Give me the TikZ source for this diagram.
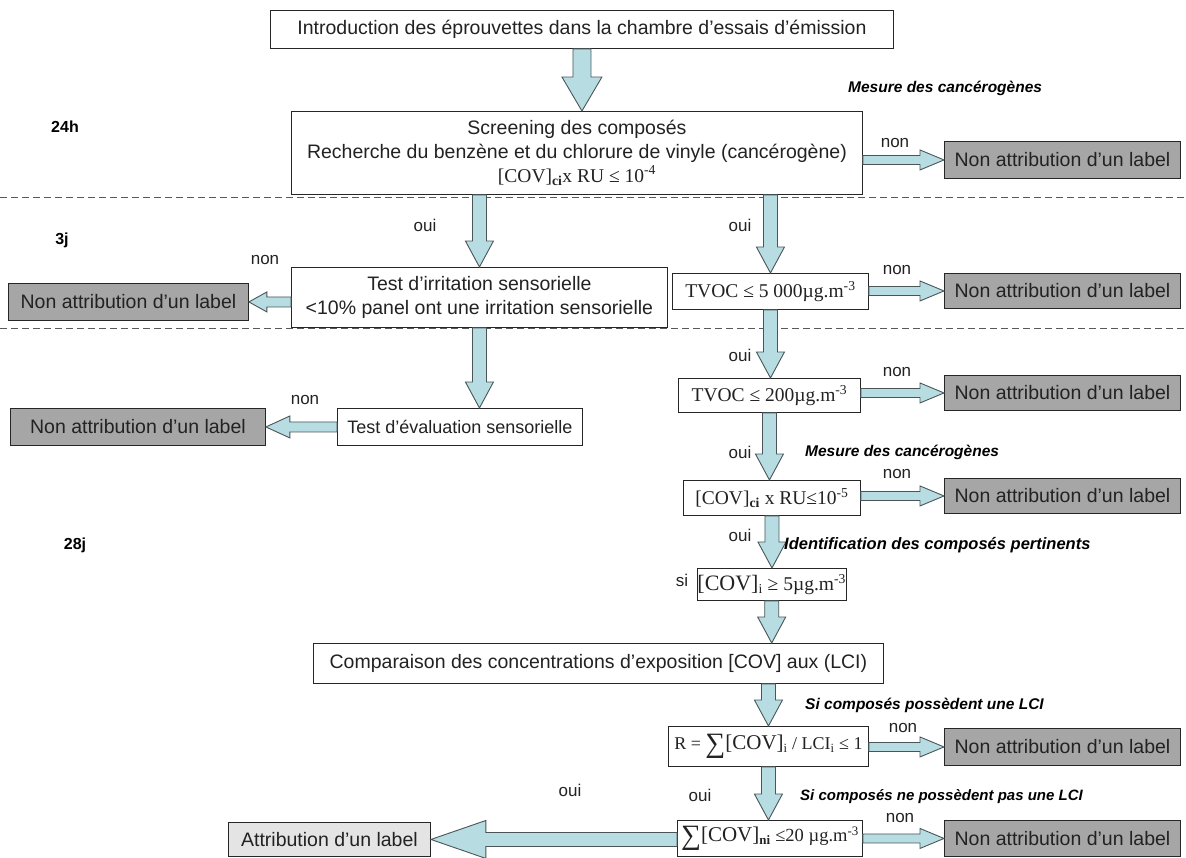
\documentclass[tikz,border=0pt]{standalone}
\usepackage{fontspec}
\setmainfont{Liberation Sans}
\newfontfamily\tms{Liberation Serif}
\usetikzlibrary{calc}
\definecolor{arrfill}{HTML}{B7DDE3}
\definecolor{arrline}{HTML}{4A5558}
\definecolor{graybox}{HTML}{A6A6A6}
\definecolor{lightbox}{HTML}{E4E4E4}
\definecolor{txt}{HTML}{222222}
\tikzset{
  box/.style={draw=black!85, line width=0.9pt, fill=white, inner sep=0pt, align=center,
    anchor=north west, text=txt, font=\fontsize{19.5}{24}\selectfont},
  gbox/.style={box, fill=graybox},
  lbox/.style={box, fill=lightbox},
  blk/.style={draw=arrline, fill=arrfill, line width=0.9pt, line join=miter},
  lab/.style={inner sep=0pt, text=txt, font=\fontsize{17}{20}\selectfont},
  note/.style={inner sep=0pt, anchor=west, text=black, font=\fontsize{15.5}{19}\selectfont\bfseries\itshape},
  phase/.style={inner sep=0pt, text=black, font=\fontsize{16}{19}\selectfont\bfseries},
  sep/.style={draw=black!65, line width=1pt, dash pattern=on 7pt off 4pt}
}
% box: name, x1, y1, x2, y2, style, text
\newcommand\bx[7]{\node[#6, minimum width={#4pt-#2pt}, minimum height={#5pt-#3pt}] (#1) at (#2pt,-#3pt) {#7};}
% down arrow: from, to, shaft half, head half, head length
\newcommand\darr[5]{\draw[blk] let \p1=(#1), \p2=(#2) in
  (\x1-#3pt,\y1) -- (\x1-#3pt,\y2+#5pt) -- (\x1-#4pt,\y2+#5pt) -- (\x1,\y2) --
  (\x1+#4pt,\y2+#5pt) -- (\x1+#3pt,\y2+#5pt) -- (\x1+#3pt,\y1) -- cycle;}
% right arrow
\newcommand\rarr[5]{\draw[blk] let \p1=(#1), \p2=(#2) in
  (\x1,\y1+#3pt) -- (\x2-#5pt,\y1+#3pt) -- (\x2-#5pt,\y1+#4pt) -- (\x2,\y1) --
  (\x2-#5pt,\y1-#4pt) -- (\x2-#5pt,\y1-#3pt) -- (\x1,\y1-#3pt) -- cycle;}
% left arrow
\newcommand\larr[5]{\draw[blk] let \p1=(#1), \p2=(#2) in
  (\x1,\y1+#3pt) -- (\x2+#5pt,\y1+#3pt) -- (\x2+#5pt,\y1+#4pt) -- (\x2,\y1) --
  (\x2+#5pt,\y1-#4pt) -- (\x2+#5pt,\y1-#3pt) -- (\x1,\y1-#3pt) -- cycle;}
\newcommand\bigsum{{\fontsize{28}{28}\selectfont\raisebox{-3pt}{∑}}}
\begin{document}
\begin{tikzpicture}[x=1pt,y=1pt]
\useasboundingbox[fill=white] (0,0) rectangle (1186,-857);
% separators
\coordinate (d1l) at (0,-197); \coordinate (d1r) at (1186,-197);
\coordinate (d2l) at (0,-328); \coordinate (d2r) at (1186,-328);
\draw[sep] (d1l) -- (d1r);
\draw[sep] (d2l) -- (d2r);
% boxes
\bx{intro}{270}{10}{893}{48}{box}{Introduction des éprouvettes dans la chambre d'essais d'émission}
\bx{screen}{291}{111}{862}{194}{box}{Screening des composés\\Recherche du benzène et du chlorure de vinyle (cancérogène)\\{\tms [COV]\textsubscript{\bfseries ci}x RU ≤ 10\textsuperscript{-4}}}
\bx{g1}{944}{141}{1180}{178}{gbox}{Non attribution d'un label}
\bx{irr}{291}{267}{667}{327}{box}{Test d'irritation sensorielle\\<10\% panel ont une irritation sensorielle}
\bx{g5}{8}{283}{248}{320}{gbox}{Non attribution d'un label}
\bx{tv5}{672}{273}{868}{309}{box}{\tms TVOC ≤ 5 000µg.m\textsuperscript{-3}}
\bx{g2}{944}{273}{1180}{308}{gbox}{Non attribution d'un label}
\bx{tv200}{678}{378}{860}{412}{box}{\tms TVOC ≤ 200µg.m\textsuperscript{-3}}
\bx{g3}{944}{375}{1180}{410}{gbox}{Non attribution d'un label}
\bx{eval}{337}{408}{582}{445}{box, font=\fontsize{18}{22}\selectfont}{Test d'évaluation sensorielle}
\bx{g4}{10}{408}{265}{445}{gbox}{Non attribution d'un label}
\bx{covci}{683}{480}{860}{515}{box}{\tms [COV]\textsubscript{\bfseries ci} x RU≤10\textsuperscript{-5}}
\bx{g6}{944}{478}{1180}{513}{gbox}{Non attribution d'un label}
\bx{covi}{697}{568}{840}{600}{box}{\tms {\fontsize{22}{22}\selectfont[COV]}\textsubscript{i} ≥ 5µg.m\textsuperscript{-3}}
\bx{comp}{313}{643}{883}{683}{box}{Comparaison des concentrations d'exposition [COV] aux (LCI)}
\bx{R}{668}{726}{868}{766}{box, font=\fontsize{18}{22}\selectfont}{\tms R = \bigsum{\fontsize{21}{21}\selectfont[COV]}\textsubscript{i} / LCI\textsubscript{i} ≤ 1}
\bx{g7}{944}{728}{1180}{765}{gbox}{Non attribution d'un label}
\bx{sum}{677}{820}{862}{856}{box, font=\fontsize{18.5}{22}\selectfont}{\tms \bigsum{\fontsize{21}{21}\selectfont[COV]}\textsubscript{\bfseries ni} ≤20 µg.m\textsuperscript{-3}}
\bx{g8}{944}{820}{1180}{856}{gbox}{Non attribution d'un label}
\bx{attr}{228}{822}{430}{856}{lbox}{Attribution d'un label}
% vertical arrows
\darr{intro.south}{screen.north}{9}{20}{34}
\darr{screen.south -| irr.north}{irr.north}{7}{14}{26}
\darr{screen.south -| tv5.north}{tv5.north}{7}{14}{26}
\darr{irr.south}{eval.north}{7}{14}{26}
\darr{tv5.south}{tv200.north}{7}{14}{26}
\darr{tv200.south}{covci.north}{7}{14}{26}
\darr{covci.south}{covi.north}{7}{14}{26}
\darr{covi.south}{comp.north}{7}{14}{26}
\darr{comp.south -| R.north}{R.north}{7}{14}{26}
\darr{R.south}{sum.north}{7}{14}{26}
% horizontal arrows
\rarr{screen.east |- g1.west}{g1.west}{4.5}{10}{24}
\rarr{tv5.east |- g2.west}{g2.west}{4.5}{10}{24}
\rarr{tv200.east |- g3.west}{g3.west}{4.5}{10}{24}
\rarr{covci.east |- g6.west}{g6.west}{4.5}{10}{24}
\rarr{R.east |- g7.west}{g7.west}{4.5}{10}{24}
\rarr{sum.east |- g8.west}{g8.west}{4.5}{10}{24}
\larr{irr.west |- g5.east}{g5.east}{5}{10}{18}
\larr{eval.west |- g4.east}{g4.east}{5}{11}{24}
\larr{sum.west |- attr.east}{attr.east}{7}{19}{55}
% labels
\node[note] (mes1) at (848,-88) {Mesure des cancérogènes};
\node[phase] (t24) at (65,-127) {24h};
\node[lab] (non1) at (895,-143) {non};
\node[lab] (oui1) at (425,-225) {oui};
\node[lab] (oui2) at (740,-225) {oui};
\node[phase] (t3j) at (62,-240) {3j};
\node[lab] (non2) at (265,-260) {non};
\node[lab] (non3) at (897,-270) {non};
\node[lab] (oui3) at (740,-355) {oui};
\node[lab] (non4) at (897,-372) {non};
\node[lab] (non5) at (305,-400) {non};
\node[lab] (oui4) at (740,-452) {oui};
\node[note] (mes2) at (805,-452) {Mesure des cancérogènes};
\node[lab] (non6) at (897,-474) {non};
\node[phase] (t28) at (75,-545) {28j};
\node[lab] (oui5) at (740,-535) {oui};
\node[note, font=\fontsize{16.5}{20}\selectfont\bfseries\itshape] (ident) at (784,-545) {Identification des composés pertinents};
\node[lab] (si) at (682,-580) {si};
\node[note] (lci1) at (805,-705) {Si composés possèdent une LCI};
\node[lab] (non7) at (903,-728) {non};
\node[lab] (oui6) at (700,-795) {oui};
\node[note, font=\fontsize{15}{18}\selectfont\bfseries\itshape] (lci2) at (800,-797) {Si composés ne possèdent pas une LCI};
\node[lab] (oui7) at (570,-790) {oui};
\node[lab] (non8) at (900,-818) {non};
\end{tikzpicture}
\end{document}
